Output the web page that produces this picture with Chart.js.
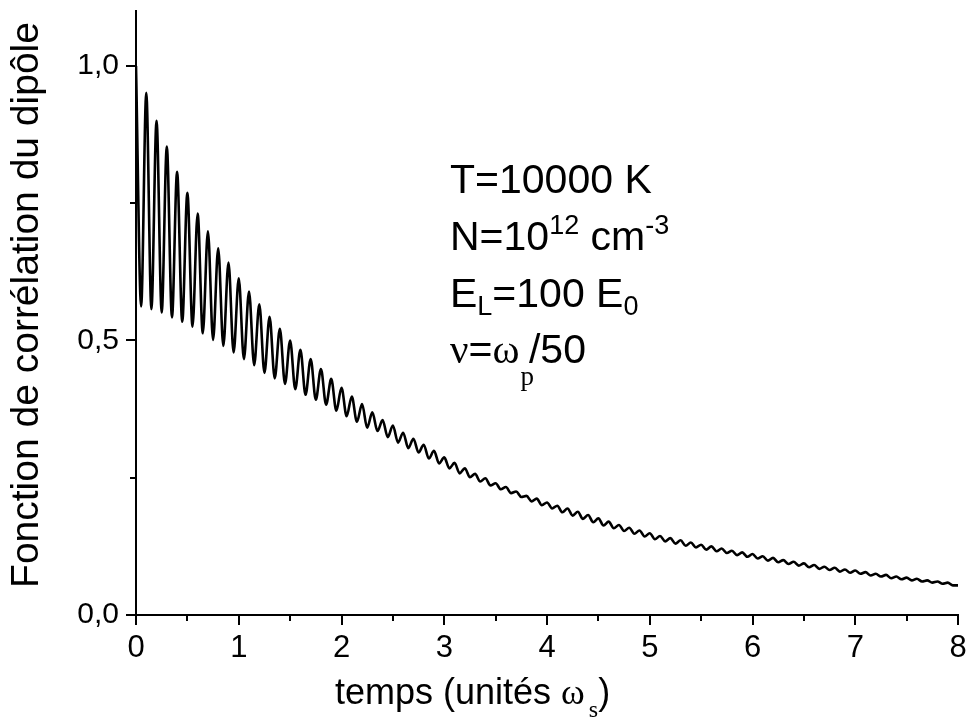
<!DOCTYPE html>
<html>
<head>
<meta charset="utf-8">
<title>Fonction de corrélation du dipôle</title>
<script src="https://cdn.jsdelivr.net/npm/chart.js@4.4.1/dist/chart.umd.min.js"></script>
<style>
    body { margin: 0; background: #fff; }
    #wrap { width: 968px; height: 717px; }
</style>
</head>
<body>
<div id="wrap"><canvas id="dipoleChart" width="968" height="717"></canvas></div>
<script>
// Maxima of the oscillation, one per period (t = 0, 0.1, ... 8.0)
const peakValues = [
    1.000, 0.951, 0.900, 0.853, 0.807, 0.769, 0.731, 0.699, 0.668, 0.642,
    0.613, 0.589, 0.566, 0.543, 0.521, 0.500, 0.483, 0.466, 0.448, 0.430,
    0.414, 0.398, 0.384, 0.369, 0.355, 0.345, 0.332, 0.321, 0.310, 0.299,
    0.287, 0.277, 0.267, 0.257, 0.249, 0.240, 0.233, 0.225, 0.217, 0.212,
    0.205, 0.199, 0.194, 0.188, 0.182, 0.176, 0.170, 0.164, 0.159, 0.154,
    0.149, 0.144, 0.140, 0.136, 0.132, 0.128, 0.125, 0.121, 0.117, 0.114,
    0.111, 0.107, 0.104, 0.100, 0.097, 0.094, 0.091, 0.088, 0.086, 0.083,
    0.081, 0.078, 0.075, 0.073, 0.070, 0.068, 0.066, 0.063, 0.061, 0.059,
    0.054
];

// Minima, half a period later (t = 0.05, 0.15, ... 7.95)
const troughValues = [
    0.562, 0.557, 0.551, 0.542, 0.534, 0.525, 0.513, 0.501, 0.490, 0.478,
    0.466, 0.455, 0.441, 0.431, 0.421, 0.411, 0.401, 0.392, 0.383, 0.372,
    0.362, 0.352, 0.341, 0.335, 0.324, 0.314, 0.304, 0.296, 0.285, 0.276,
    0.267, 0.258, 0.251, 0.243, 0.236, 0.229, 0.222, 0.215, 0.207, 0.200,
    0.194, 0.187, 0.181, 0.175, 0.169, 0.163, 0.158, 0.153, 0.148, 0.143,
    0.138, 0.134, 0.130, 0.126, 0.123, 0.119, 0.116, 0.113, 0.109, 0.106,
    0.103, 0.099, 0.096, 0.093, 0.090, 0.087, 0.084, 0.082, 0.079, 0.077,
    0.075, 0.072, 0.070, 0.067, 0.065, 0.063, 0.061, 0.059, 0.057, 0.054
];

const period = 0.1;
const xMajorTicks = [0, 1, 2, 3, 4, 5, 6, 7, 8];
const yMajorTicks = [0, 0.5, 1.0];

const SANS = "'Liberation Sans', Arial, sans-serif";
const SERIF = "'Liberation Serif', 'Times New Roman', serif";

function buildCurve() {
    const pts = [];
    for (let k = 0; k < peakValues.length; k++) {
        pts.push({ x: k * period, y: peakValues[k] });
        if (k < troughValues.length) {
            pts.push({ x: k * period + period / 2, y: troughValues[k] });
        }
    }
    return pts;
}

function isMultiple(v, step) {
    const r = v / step;
    return Math.abs(r - Math.round(r)) < 1e-6;
}

// draws a list of text runs one after another (for sub/superscripts)
function drawRuns(ctx, x, y, runs) {
    let cx = x;
    runs.forEach(run => {
        ctx.font = run.font;
        ctx.fillText(run.text, cx, y + (run.dy || 0));
        cx += ctx.measureText(run.text).width + (run.gap || 0);
    });
}

const tickMarks = {
    id: 'tickMarks',
    afterDraw(chart) {
        const ctx = chart.ctx;
        const xs = chart.scales.x;
        const ys = chart.scales.y;
        const area = chart.chartArea;
        ctx.save();
        ctx.strokeStyle = '#000';
        ctx.lineWidth = 2;
        ctx.beginPath();
        xs.ticks.forEach(t => {
            if (!isMultiple(t.value, 0.5)) return;
            const px = Math.round(xs.getPixelForValue(t.value));
            const len = isMultiple(t.value, 1) ? 10 : 6;
            ctx.moveTo(px, area.bottom);
            ctx.lineTo(px, area.bottom + len);
        });
        ys.ticks.forEach(t => {
            if (!isMultiple(t.value, 0.25)) return;
            const py = Math.round(ys.getPixelForValue(t.value));
            const len = isMultiple(t.value, 0.5) ? 10 : 6;
            ctx.moveTo(area.left, py);
            ctx.lineTo(area.left - len, py);
        });
        ctx.stroke();
        ctx.restore();
    }
};

const labels = {
    id: 'labels',
    afterDraw(chart) {
        const ctx = chart.ctx;
        ctx.save();
        ctx.fillStyle = '#000';
        ctx.textBaseline = 'alphabetic';
        ctx.textAlign = 'left';

        // x axis title
        drawRuns(ctx, 335, 704, [
            { text: 'temps (unités ', font: '36px ' + SANS },
            { text: 'ω', font: '36px ' + SERIF, gap: 4 },
            { text: 's', font: '24px ' + SERIF, dy: 13 },
            { text: ')', font: '36px ' + SANS }
        ]);

        // annotation block
        const big = '41px ' + SANS;
        const small = '27px ' + SANS;
        drawRuns(ctx, 450, 193, [{ text: 'T=10000 K', font: big }]);
        drawRuns(ctx, 450, 250, [
            { text: 'N=10', font: big },
            { text: '12', font: small, dy: -16 },
            { text: ' cm', font: big },
            { text: '-3', font: small, dy: -16 }
        ]);
        drawRuns(ctx, 450, 307, [
            { text: 'E', font: big },
            { text: 'L', font: small, dy: 8 },
            { text: '=100 E', font: big },
            { text: '0', font: small, dy: 8 }
        ]);
        drawRuns(ctx, 450, 363, [
            { text: 'ν', font: '41px ' + SERIF },
            { text: '=', font: big },
            { text: 'ω', font: '41px ' + SERIF, gap: 1 },
            { text: 'p', font: '27px ' + SERIF, dy: 22, gap: -5 },
            { text: '/50', font: big }
        ]);

        // y axis title, rotated
        ctx.translate(27, 305);
        ctx.rotate(-Math.PI / 2);
        ctx.textAlign = 'center';
        ctx.textBaseline = 'middle';
        ctx.font = '39px ' + SANS;
        ctx.fillText('Fonction de corrélation du dipôle', 0, 0);
        ctx.restore();
    }
};

function initDipoleChart() {
    const ctx = document.getElementById('dipoleChart').getContext('2d');

    new Chart(ctx, {
        type: 'line',
        data: {
            datasets: [{
                data: buildCurve(),
                borderColor: '#000',
                borderWidth: 2.6,
                pointRadius: 0,
                fill: false,
                cubicInterpolationMode: 'monotone'
            }]
        },
        options: {
            responsive: false,
            animation: false,
            devicePixelRatio: 1,
            layout: { padding: { top: 11, right: 10, left: 0, bottom: 0 } },
            plugins: {
                legend: { display: false },
                tooltip: { enabled: false }
            },
            scales: {
                x: {
                    type: 'linear',
                    min: 0,
                    max: 8,
                    grid: { display: false, drawTicks: false },
                    border: { display: true, color: '#000', width: 2 },
                    ticks: {
                        stepSize: 0.5,
                        autoSkip: false,
                        maxRotation: 0,
                        padding: 15,
                        color: '#000',
                        font: { family: SANS, size: 31 },
                        callback: v => xMajorTicks.includes(v) ? String(v) : ''
                    },
                    afterFit: scale => {
                        scale.height = 102;
                        scale.paddingLeft = 0;
                        scale.paddingRight = 0;
                    }
                },
                y: {
                    min: 0,
                    max: 1.1,
                    grid: { display: false, drawTicks: false },
                    border: { display: true, color: '#000', width: 2 },
                    ticks: {
                        stepSize: 0.25,
                        autoSkip: false,
                        padding: 17,
                        color: '#000',
                        font: { family: SANS, size: 30 },
                        callback: v => yMajorTicks.some(m => Math.abs(m - v) < 1e-6)
                            ? v.toFixed(1).replace('.', ',') : ''
                    },
                    afterFit: scale => {
                        scale.width = 136;
                        scale.paddingTop = 0;
                        scale.paddingBottom = 0;
                    }
                }
            }
        },
        plugins: [tickMarks, labels]
    });
}

document.addEventListener('DOMContentLoaded', initDipoleChart);
</script>
</body>
</html>
